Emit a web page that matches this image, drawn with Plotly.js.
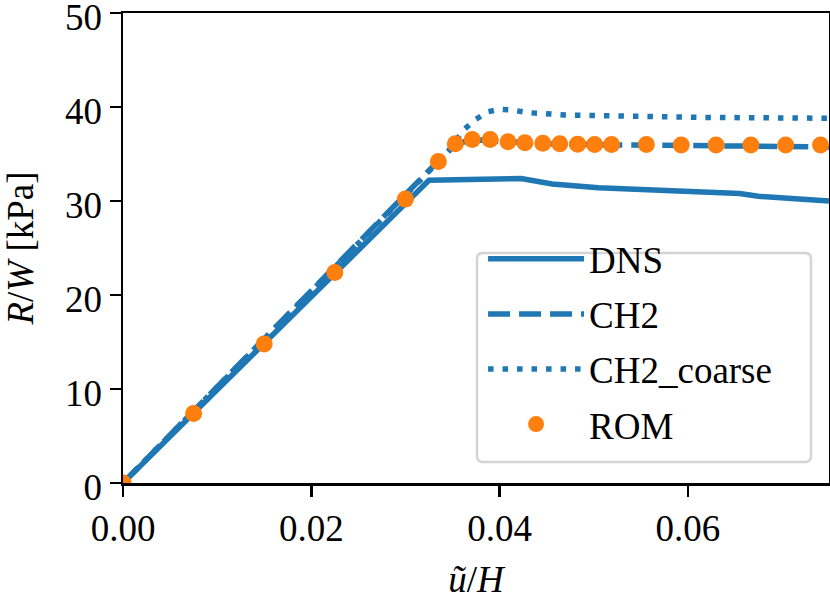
<!DOCTYPE html>
<html>
<head>
<meta charset="utf-8">
<script src="https://cdn.plot.ly/plotly-3.0.1.min.js"></script>
<style>
	body { margin: 0; padding: 0; background: #ffffff; }
	#plot1 { width: 830px; height: 601px; }
</style>
</head>
<body>
<div id="plot1"></div>
<script>
// Values.
var dnsX = [0, 0.0325, 0.0423, 0.0456, 0.0505, 0.058, 0.0655, 0.0675, 0.0739, 0.075];
var dnsY = [0, 32.2, 32.4, 31.8, 31.4, 31.1, 30.8, 30.5, 30.1, 30.0];

var ch2X = [0, 0.0335, 0.0350, 0.0365, 0.0380, 0.0400, 0.0450, 0.0500, 0.0600, 0.0750];
var ch2Y = [0, 34.1, 35.8, 36.4, 36.5, 36.35, 36.1, 36.0, 35.9, 35.75];

var coarseX = [0, 0.0335, 0.0347, 0.0361, 0.0375, 0.0388, 0.0400, 0.0412, 0.0430, 0.0470, 0.0540, 0.0610, 0.0680, 0.0750];
var coarseY = [0, 34.1, 35.4, 37.5, 38.7, 39.5, 39.75, 39.7, 39.4, 39.15, 39.0, 38.9, 38.85, 38.8];

var romX = [0, 0.0075, 0.015, 0.0225, 0.030, 0.0335, 0.0353, 0.0371, 0.0390, 0.0409, 0.0427,
	0.0446, 0.0464, 0.0483, 0.0501, 0.0519, 0.0556, 0.0593, 0.0630, 0.0667, 0.0704, 0.0741];
var romY = [0, 7.4, 14.8, 22.4, 30.2, 34.2, 36.1, 36.55, 36.55, 36.3, 36.2,
	36.15, 36.1, 36.05, 36.0, 36.0, 36.0, 35.95, 35.95, 35.95, 35.95, 35.95];

var xTicks = [0, 0.02, 0.04, 0.06];
var xTickText = ['0.00', '0.02', '0.04', '0.06'];
var yTicks = [0, 10, 20, 30, 40, 50];

var blue = '#1f77b4';
var orange = '#ff7f0e';
var serif = '"Liberation Serif", "Times New Roman", serif';
var fs = 37;

var dns = {
	x: dnsX, y: dnsY, name: 'DNS', mode: 'lines', legendgroup: 'a',
	line: { color: blue, width: 5.5 }
};

var ch2 = {
	x: ch2X, y: ch2Y, name: 'CH2', mode: 'lines', legendgroup: 'b',
	line: { color: blue, width: 5.5, dash: '22px,9px' }
};

var coarse = {
	x: coarseX, y: coarseY, name: 'CH2_coarse', mode: 'lines', legendgroup: 'c',
	line: { color: blue, width: 5.5, dash: '5.5px,9px' }
};

var rom = {
	x: romX, y: romY, name: 'ROM', mode: 'markers', legendgroup: 'd',
	marker: { color: orange, size: 17 }
};

// rounded legend frame (plot-area fractions)
var bx0 = 0.5014, bx1 = 0.9745, by0 = 0.0447, by1 = 0.4894, rx = 0.0085, ry = 0.0128;
var frame = 'M' + (bx0 + rx) + ',' + by1 +
	' L' + (bx1 - rx) + ',' + by1 + ' Q' + bx1 + ',' + by1 + ' ' + bx1 + ',' + (by1 - ry) +
	' L' + bx1 + ',' + (by0 + ry) + ' Q' + bx1 + ',' + by0 + ' ' + (bx1 - rx) + ',' + by0 +
	' L' + (bx0 + rx) + ',' + by0 + ' Q' + bx0 + ',' + by0 + ' ' + bx0 + ',' + (by0 + ry) +
	' L' + bx0 + ',' + (by1 - ry) + ' Q' + bx0 + ',' + by1 + ' ' + (bx0 + rx) + ',' + by1 + ' Z';

var layout = {
	autosize: false,
	width: 830,
	height: 601,
	hovermode: false,
	paper_bgcolor: '#ffffff',
	plot_bgcolor: '#ffffff',
	margin: { l: 123, r: 1, t: 13, b: 118 },
	font: { family: serif, size: fs, color: '#000000' },
	showlegend: true,
	legend: {
		x: 0.51, xanchor: 'left',
		y: 0.542, yanchor: 'top',
		bgcolor: 'rgba(0,0,0,0)',
		borderwidth: 0,
		itemwidth: 96,
		traceorder: 'grouped',
		tracegroupgap: 4,
		font: { family: serif, size: fs, color: '#000000' }
	},
	shapes: [{
		type: 'path', xref: 'paper', yref: 'paper', path: frame,
		fillcolor: '#ffffff', line: { color: '#d4d4d4', width: 2.5 }, layer: 'below'
	}],
	xaxis: {
		range: [0, 0.075],
		showgrid: false,
		zeroline: false,
		showline: true,
		mirror: true,
		linecolor: '#000000',
		linewidth: 2.5,
		ticks: 'outside',
		ticklen: 11,
		tickwidth: 2.5,
		tickcolor: '#000000',
		tickvals: xTicks,
		ticktext: xTickText,
		ticklabeloverflow: 'allow',
		tickfont: { family: serif, size: fs },
		title: { text: '<i>ũ</i>/<i>H</i>', font: { family: serif, size: fs }, standoff: 18 }
	},
	yaxis: {
		range: [0, 50],
		showgrid: false,
		zeroline: false,
		showline: true,
		mirror: true,
		linecolor: '#000000',
		linewidth: 2.5,
		ticks: 'outside',
		ticklen: 11,
		tickwidth: 2.5,
		tickcolor: '#000000',
		tickvals: yTicks,
		ticklabelshift: 4,
		ticklabeloverflow: 'allow',
		tickfont: { family: serif, size: fs },
		title: { text: '<i>R</i>/<i>W</i> [kPa]', font: { family: serif, size: fs }, standoff: 20 }
	}
};

var data = [dns, ch2, coarse, rom];

Plotly.newPlot('plot1', data, layout, { staticPlot: true, displayModeBar: false });
</script>
</body>
</html>
